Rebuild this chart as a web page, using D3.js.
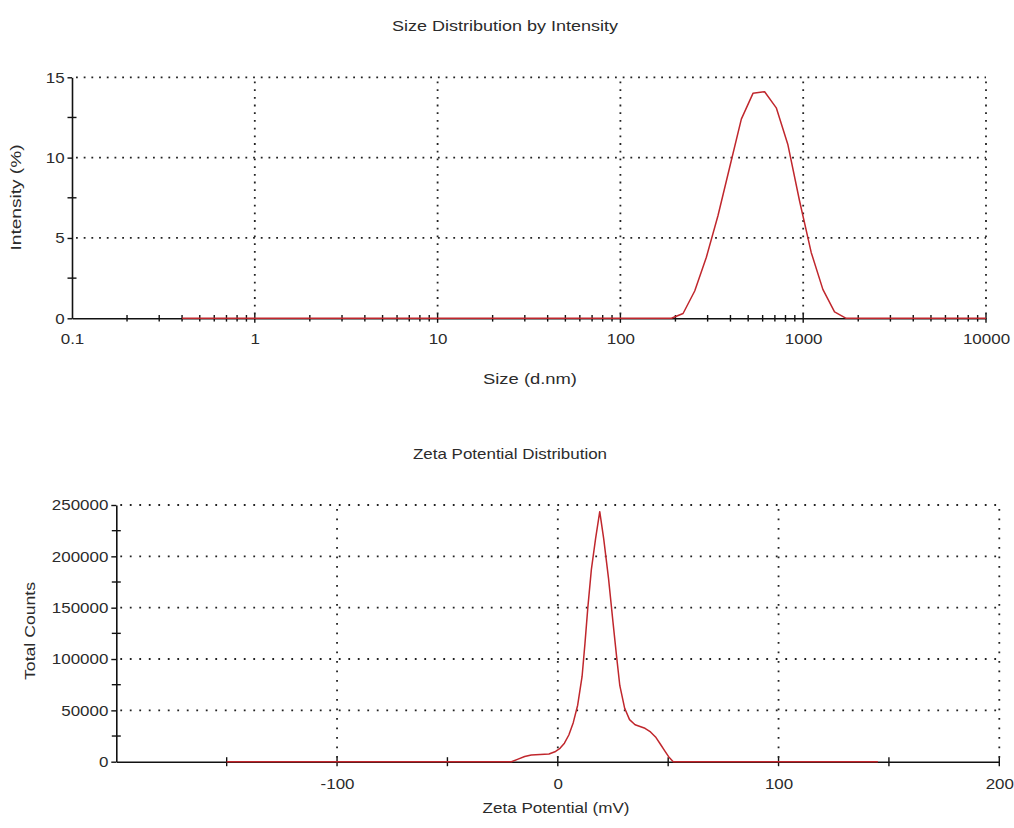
<!DOCTYPE html>
<html>
<head>
<meta charset="utf-8">
<script src="https://cdn.jsdelivr.net/npm/d3@7"></script>
<style>
  html, body { margin: 0; padding: 0; background: #fff; }
  svg { display: block; font-family: "Liberation Sans", Arial, sans-serif; }
</style>
</head>
<body>
<svg id="chart" width="1014" height="828"></svg>
<script>
// ---- Size distribution by intensity (DLS) ----
const sizeNm       = [0.4, 190.1, 220.2, 255.0, 295.3, 342.0, 396.1, 458.7, 531.2, 615.1, 712.4, 825.0, 955.4, 1106, 1281, 1484, 1718, 10000];
const intensityPct = [0,   0,     0.3,   1.7,   3.8,   6.4,   9.4,   12.4,  14.0,  14.1,  13.1,  10.8,  7.3,   4.1,  1.8,  0.4,  0,    0];
const sizeTicks      = [0.1, 1, 10, 100, 1000, 10000];
const sizeTickLabels = ["0.1", "1", "10", "100", "1000", "10000"];
const intensityTicks      = [0, 5, 10, 15];
const intensityMinorTicks = [2.5, 7.5, 12.5];

// ---- Zeta potential distribution ----
const zetaMv      = [-150, -21, -18, -15, -12, -8, -4, -1, 1, 3, 5, 7, 9, 11, 12.3, 13.6, 15.2, 17.1, 19, 20.8, 23, 25, 26.6, 28.1, 30.3, 32.5, 35, 39.5, 42, 44.5, 46.5, 48.3, 50.5, 52.3, 145];
const totalCounts = [0, 0, 2500, 5000, 6500, 7000, 7500, 10000, 13000, 18000, 26000, 38000, 55000, 83000, 115000, 150000, 187000, 217000, 243500, 217000, 178000, 136000, 103000, 74000, 52000, 41000, 36000, 32500, 29000, 23500, 17000, 11000, 4000, 0, 0];
const zetaTicks       = [-100, 0, 100, 200];
const zetaMinorTicks  = [-150, -50, 50, 150];
const countTicks      = [0, 50000, 100000, 150000, 200000, 250000];
const countMinorTicks = [25000, 75000, 125000, 175000, 225000];

const svg = d3.select("#chart");
const INK = "#111";
const TEXT = "#2b2b2b";
const CURVE = "#c0272d";
const TICK_SCALE = 1.13;
const plain = d => String(d);   // ASCII hyphen minus, no thousands separators

function label(text, x, y, len, rotate) {
  svg.append("text")
    .attr("transform", `translate(${x},${y})` + (rotate ? " rotate(-90)" : ""))
    .attr("text-anchor", "middle")
    .attr("font-size", 15)
    .attr("fill", TEXT)
    .attr("textLength", len)
    .attr("lengthAdjust", "spacingAndGlyphs")
    .text(text);
}

function styleAxis(g) {
  g.selectAll(".domain").attr("stroke", INK).attr("stroke-width", 1.6);
  g.selectAll(".tick line").attr("stroke", INK).attr("stroke-width", 1.4);
  g.selectAll(".tick text")
    .attr("font-size", 15)
    .attr("font-family", "'Liberation Sans', Arial, sans-serif")
    .attr("fill", TEXT)
    .attr("transform", `scale(${TICK_SCALE},1)`);
}

function gridlines(xs, ys, xScale, yScale, dash) {
  const [x0, x1] = xScale.range();
  const [y0, y1] = yScale.range();
  const g = svg.append("g")
    .attr("stroke", "#222").attr("stroke-width", 1.8).attr("stroke-dasharray", dash);
  g.selectAll("line.h").data(ys).join("line")
    .attr("x1", x0 + 4).attr("x2", x1)
    .attr("y1", d => yScale(d)).attr("y2", d => yScale(d));
  g.selectAll("line.v").data(xs).join("line")
    .attr("x1", d => xScale(d)).attr("x2", d => xScale(d))
    .attr("y1", y0 - 4).attr("y2", y1);
}

function crossTicks(values, scale, axisPos, half, vertical) {
  svg.append("g").attr("stroke", INK).attr("stroke-width", 1.4)
    .selectAll("line").data(values).join("line")
    .attr(vertical ? "x1" : "y1", d => scale(d))
    .attr(vertical ? "x2" : "y2", d => scale(d))
    .attr(vertical ? "y1" : "x1", axisPos - half)
    .attr(vertical ? "y2" : "x2", axisPos + half);
}

// ================= Top chart =================
const xTop = d3.scaleLog().domain([0.1, 10000]).range([72, 986]);
const yTop = d3.scaleLinear().domain([0, 15]).range([318.3, 77.3]);

gridlines(sizeTicks.slice(1), intensityTicks.slice(1), xTop, yTop, "1.8,5.9");

// log minor ticks (2..9 of each decade)
const sizeMinor = xTop.ticks().filter(v => !sizeTicks.some(t => Math.abs(t - v) / t < 1e-6));
crossTicks(sizeMinor, xTop, yTop(0), 3.3, true);
crossTicks(sizeTicks.slice(1), xTop, yTop(0), 4.5, true);
crossTicks(intensityMinorTicks, yTop, xTop.range()[0], 4.5, false);

const gxTop = svg.append("g").attr("transform", `translate(0,${yTop(0)})`)
  .call(d3.axisBottom(xTop).tickValues(sizeTicks)
    .tickFormat((d, i) => sizeTickLabels[i]).tickSize(0).tickSizeOuter(0).tickPadding(15));
styleAxis(gxTop);

const gyTop = svg.append("g").attr("transform", `translate(${xTop.range()[0]},0)`)
  .call(d3.axisLeft(yTop).tickValues(intensityTicks).tickFormat(plain)
    .tickSize(4.5).tickSizeOuter(0).tickPadding(2));
styleAxis(gyTop);

svg.append("path")
  .datum(sizeNm.map((s, i) => [s, intensityPct[i]]))
  .attr("fill", "none").attr("stroke", CURVE).attr("stroke-width", 1.5)
  .attr("stroke-linejoin", "round")
  .attr("d", d3.line().x(d => xTop(d[0])).y(d => yTop(d[1])));

label("Size Distribution by Intensity", 505, 31, 226, false);
label("Size (d.nm)", 530, 384, 94, false);
label("Intensity (%)", 21, 197.5, 106, true);

// ================= Bottom chart =================
const xBot = d3.scaleLinear().domain([-200, 200]).range([116.3, 999.3]);
const yBot = d3.scaleLinear().domain([0, 250000]).range([761.7, 505]);

gridlines(zetaTicks, countTicks.slice(1), xBot, yBot, "1.8,7.7");

crossTicks(zetaMinorTicks.concat(zetaTicks), xBot, yBot(0), 4.5, true);
crossTicks(countMinorTicks, yBot, xBot.range()[0], 4.5, false);

const gxBot = svg.append("g").attr("transform", `translate(0,${yBot(0)})`)
  .call(d3.axisBottom(xBot).tickValues(zetaTicks).tickFormat(plain)
    .tickSize(0).tickSizeOuter(0).tickPadding(17));
styleAxis(gxBot);

const gyBot = svg.append("g").attr("transform", `translate(${xBot.range()[0]},0)`)
  .call(d3.axisLeft(yBot).tickValues(countTicks).tickFormat(plain)
    .tickSize(5).tickSizeOuter(0).tickPadding(2));
styleAxis(gyBot);

svg.append("path")
  .datum(zetaMv.map((z, i) => [z, totalCounts[i]]))
  .attr("fill", "none").attr("stroke", CURVE).attr("stroke-width", 1.5)
  .attr("stroke-linejoin", "round")
  .attr("d", d3.line().x(d => xBot(d[0])).y(d => yBot(d[1])));

label("Zeta Potential Distribution", 510, 459, 194, false);
label("Zeta Potential (mV)", 556, 813, 147, false);
label("Total Counts", 35, 631, 98, true);
</script>
</body>
</html>
